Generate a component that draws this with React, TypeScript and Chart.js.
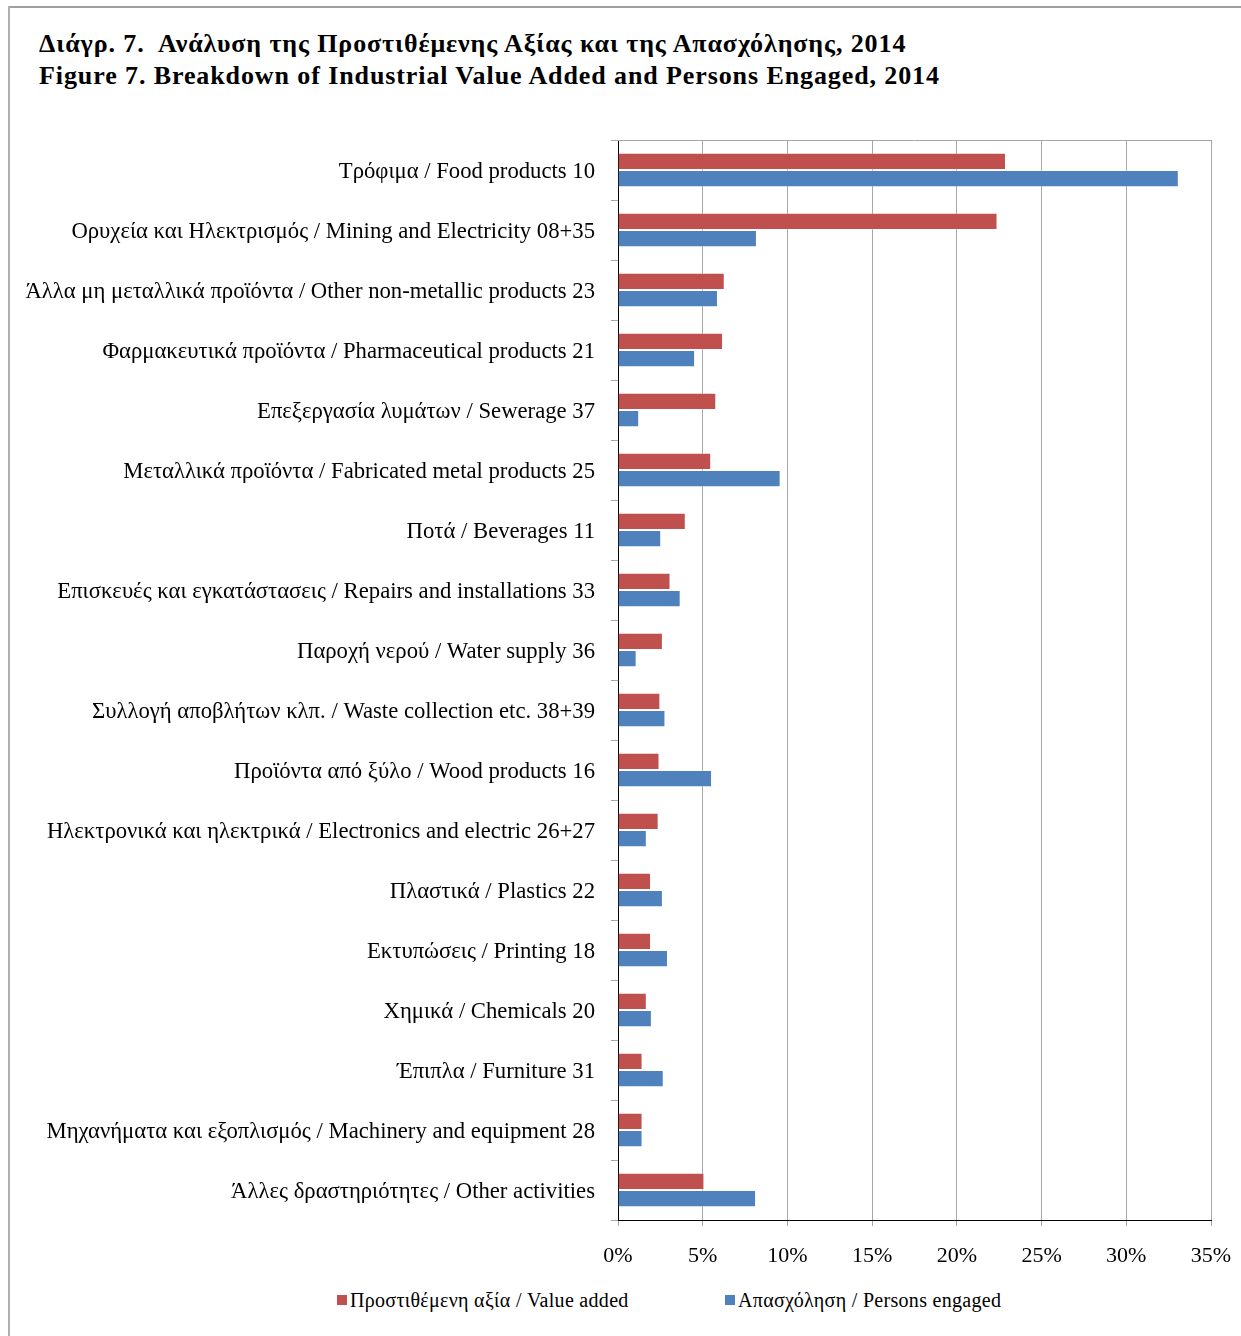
import React, { useEffect, useRef } from "react";
import { Chart, registerables } from "chart.js";

Chart.register(...registerables);

const categories: string[] = [
  "Τρόφιμα / Food products 10",
  "Ορυχεία και Ηλεκτρισμός / Mining and Electricity 08+35",
  "Άλλα μη μεταλλικά προϊόντα / Other non-metallic products 23",
  "Φαρμακευτικά προϊόντα / Pharmaceutical products 21",
  "Επεξεργασία λυμάτων / Sewerage 37",
  "Μεταλλικά προϊόντα / Fabricated metal products 25",
  "Ποτά / Beverages 11",
  "Επισκευές και εγκατάστασεις / Repairs and installations 33",
  "Παροχή νερού / Water supply 36",
  "Συλλογή αποβλήτων κλπ. / Waste collection etc. 38+39",
  "Προϊόντα από ξύλο / Wood products 16",
  "Ηλεκτρονικά και ηλεκτρικά / Electronics and electric 26+27",
  "Πλαστικά / Plastics 22",
  "Εκτυπώσεις / Printing 18",
  "Χημικά / Chemicals 20",
  "Έπιπλα / Furniture 31",
  "Μηχανήματα και εξοπλισμός / Machinery and equipment 28",
  "Άλλες δραστηριότητες / Other activities",
];

const valueAdded: number[] = [
  22.9, 22.4, 6.3, 6.2, 5.8, 5.5, 4.0, 3.1, 2.65, 2.5, 2.45, 2.4, 1.95, 1.95, 1.7, 1.45, 1.45, 5.1,
];

const personsEngaged: number[] = [
  33.1, 8.2, 5.9, 4.55, 1.25, 9.6, 2.55, 3.7, 1.1, 2.8, 5.55, 1.7, 2.65, 2.95, 2.0, 2.7, 1.45, 8.15,
];

const seriesLabels: string[] = ["Προστιθέμενη αξία / Value added", "Απασχόληση / Persons engaged"];
const seriesColors: string[] = ["#C0504D", "#4F81BD"];

const titleLines: string[] = [
  "Διάγρ. 7.  Ανάλυση της Προστιθέμενης Αξίας και της Απασχόλησης, 2014",
  "Figure 7. Breakdown of Industrial Value Added and Persons Engaged, 2014",
];

const FONT = "'Liberation Serif', 'Times New Roman', serif";

const topLinePlugin = {
  id: "topLine",
  beforeDatasetsDraw(chart: any) {
    const { ctx, chartArea } = chart;
    ctx.save();
    ctx.strokeStyle = "#a6a6a6";
    ctx.lineWidth = 1;
    ctx.beginPath();
    ctx.moveTo(chartArea.left, Math.round(chartArea.top) + 0.5);
    ctx.lineTo(chartArea.right, Math.round(chartArea.top) + 0.5);
    ctx.stroke();
    ctx.restore();
  },
};

export default function App() {
  const canvasRef = useRef<HTMLCanvasElement | null>(null);

  useEffect(() => {
    if (!canvasRef.current) return;
    const chart = new Chart(canvasRef.current, {
      type: "bar",
      data: {
        labels: categories,
        datasets: [
          {
            label: seriesLabels[0],
            data: valueAdded,
            backgroundColor: seriesColors[0],
            borderColor: "rgba(255,255,255,0.35)",
            borderWidth: 1,
            categoryPercentage: 0.575,
            barPercentage: 1.0,
          },
          {
            label: seriesLabels[1],
            data: personsEngaged,
            backgroundColor: seriesColors[1],
            borderColor: "rgba(255,255,255,0.35)",
            borderWidth: 1,
            categoryPercentage: 0.575,
            barPercentage: 1.0,
          },
        ],
      },
      options: {
        indexAxis: "y",
        responsive: false,
        animation: false,
        layout: { padding: { left: 0, right: 30, top: 20, bottom: 0 } },
        plugins: {
          legend: { display: false },
          title: { display: false },
          tooltip: { enabled: false },
        },
        scales: {
          x: {
            min: 0,
            max: 35,
            ticks: {
              stepSize: 5,
              color: "#000",
              font: { family: FONT, size: 22 },
              padding: 17,
              callback: (v: any) => v + "%",
            },
            grid: {
              color: "#a6a6a6",
              lineWidth: 1,
              drawTicks: true,
              tickLength: 6,
              tickColor: "#a6a6a6",
            },
            border: { color: "#000", width: 1 },
            afterFit: (scale: any) => {
              scale.height = 60;
              scale.paddingLeft = 0;
              scale.paddingRight = 0;
            },
          },
          y: {
            ticks: {
              color: "#000",
              font: { family: FONT, size: 22.7 },
              padding: 16,
              labelOffset: 2,
              autoSkip: false,
            },
            grid: {
              drawOnChartArea: false,
              drawTicks: true,
              tickLength: 7,
              tickColor: "#a6a6a6",
              offset: true,
            },
            border: { color: "#000", width: 1 },
            afterFit: (scale: any) => {
              scale.width = 610;
              scale.paddingTop = 0;
              scale.paddingBottom = 0;
            },
          },
        },
      },
      plugins: [topLinePlugin],
    } as any);
    return () => chart.destroy();
  }, []);

  const legendLefts = [329, 717];

  return (
    <div style={{ position: "relative", width: 1233, height: 1328, fontFamily: FONT }}>
      <div style={{ position: "fixed", left: 8, top: 6, right: 0, height: 2, background: "#a0a0a0" }} />
      <div style={{ position: "fixed", left: 8, top: 6, bottom: 0, width: 2, background: "#b0b0b0" }} />
      <div
        style={{
          position: "absolute",
          left: 31,
          top: 20,
          fontWeight: "bold",
          fontSize: 26,
          letterSpacing: "0.9px",
          lineHeight: "32px",
          color: "#000",
          whiteSpace: "pre",
        }}
      >
        {titleLines.map((t, i) => (
          <div key={i}>{t}</div>
        ))}
      </div>
      <canvas
        ref={canvasRef}
        width={1233}
        height={1160}
        style={{ position: "absolute", left: 0, top: 112, width: 1233, height: 1160 }}
      />
      {seriesLabels.map((lab, i) => (
        <div
          key={i}
          style={{
            position: "absolute",
            left: legendLefts[i],
            top: 1280,
            display: "flex",
            alignItems: "center",
            fontSize: 20,
            letterSpacing: "0.3px",
            lineHeight: "24px",
            color: "#000",
            whiteSpace: "pre",
          }}
        >
          <span style={{ display: "inline-block", width: 10, height: 10, background: seriesColors[i], marginRight: 3 }} />
          <span>{lab}</span>
        </div>
      ))}
    </div>
  );
}
